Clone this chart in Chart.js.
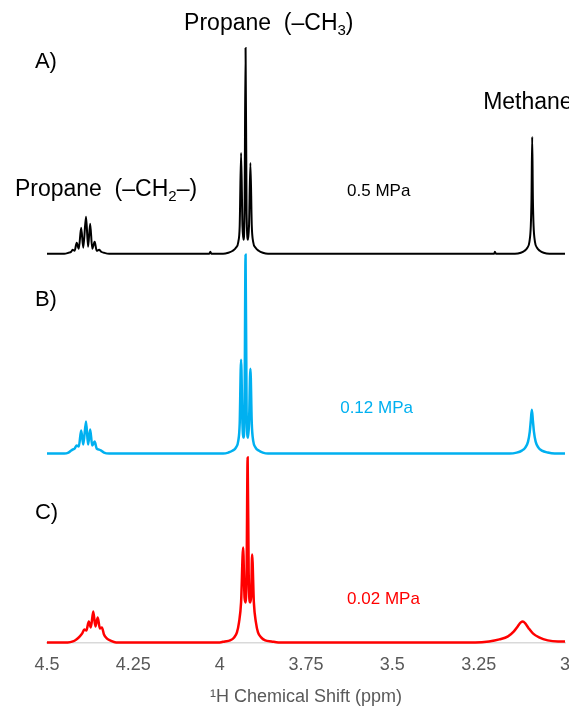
<!DOCTYPE html>
<html>
<head>
<meta charset="utf-8">
<script src="https://cdn.jsdelivr.net/npm/chart.js@4.4.1/dist/chart.umd.min.js"></script>
<style>
  html, body { margin: 0; padding: 0; background: #fff; }
  #wrap { width: 569px; height: 711px; }
</style>
</head>
<body>
<div id="wrap"><canvas id="nmr" width="569" height="711"></canvas></div>
<script>
// x axis ticks (ppm, reversed axis)
const TICKS = [4.5, 4.25, 4, 3.75, 3.5, 3.25, 3];

// A) 0.5 MPa
const SHIFT_A = [4.500, 4.450, 4.438, 4.430, 4.426, 4.420, 4.414, 4.408, 4.401, 4.395, 4.387, 4.381, 4.375, 4.369, 4.362, 4.356, 4.349, 4.343, 4.335, 4.320,
  4.030, 4.027, 4.024,
  3.990, 3.975, 3.962, 3.953, 3.946, 3.942, 3.938, 3.934, 3.931, 3.928, 3.925, 3.922, 3.918, 3.915, 3.911, 3.907, 3.903, 3.896, 3.887, 3.875, 3.860,
  3.205, 3.203, 3.200,
  3.145, 3.128, 3.117, 3.109, 3.103, 3.099, 3.097, 3.095, 3.093, 3.091, 3.087, 3.081, 3.073, 3.062, 3.045, 3.000];
const SIGNAL_A = [0, 0, 1, 2, 4, 3, 11, 5, 26, 6, 37, 7, 30, 5, 12, 3, 4, 2, 1, 0,
  0, 2, 0,
  0, 1, 3, 6, 12, 28, 101, 28, 14, 40, 206, 40, 14, 28, 91, 28, 12, 6, 3, 1, 0,
  0, 2, 0,
  0, 1, 3, 6, 12, 28, 55, 117, 55, 28, 12, 6, 3, 1, 0, 0];

// B) 0.12 MPa
const SHIFT_B = [4.500, 4.450, 4.438, 4.430, 4.426, 4.420, 4.414, 4.408, 4.401, 4.395, 4.387, 4.381, 4.375, 4.369, 4.362, 4.356, 4.349, 4.343, 4.335, 4.320,
  3.990, 3.975, 3.962, 3.953, 3.946, 3.942, 3.938, 3.934, 3.931, 3.928, 3.925, 3.922, 3.918, 3.915, 3.911, 3.907, 3.903, 3.896, 3.887, 3.875, 3.860,
  3.160, 3.140, 3.125, 3.115, 3.107, 3.102, 3.099, 3.096, 3.093, 3.090, 3.085, 3.077, 3.067, 3.050, 3.030, 3.000];
const SIGNAL_B = [0, 0, 1, 3, 4, 5, 8, 7, 23, 9, 32, 9, 24, 8, 12, 5, 4, 3, 1, 0,
  0, 1, 3, 6, 13, 30, 94, 30, 16, 42, 199, 42, 16, 30, 85, 30, 13, 6, 3, 1, 0,
  0, 1, 3, 6, 12, 22, 33, 44, 33, 22, 12, 6, 3, 1, 0, 0];

// C) 0.02 MPa
const SHIFT_C = [4.500, 4.440, 4.425, 4.415, 4.405, 4.398, 4.392, 4.386, 4.379, 4.373, 4.366, 4.360, 4.353, 4.347, 4.341, 4.335, 4.327, 4.317, 4.300,
  4.000, 3.985, 3.970, 3.958, 3.950, 3.944, 3.938, 3.932, 3.928, 3.925, 3.922, 3.919, 3.916, 3.912, 3.909, 3.906, 3.901, 3.895, 3.889, 3.880, 3.868, 3.850, 3.830,
  3.260, 3.220, 3.190, 3.165, 3.148, 3.137, 3.128, 3.122, 3.115, 3.105, 3.093, 3.075, 3.050, 3.020, 3.000];
const SIGNAL_C = [0, 0, 1, 3, 6, 9, 13, 12, 21, 15, 31, 16, 25, 14, 15, 8, 4, 2, 0,
  0, 1, 2, 5, 10, 20, 40, 95, 45, 40, 70, 185, 70, 40, 45, 88, 40, 20, 10, 5, 2, 1, 0,
  0, 1, 3, 6, 11, 16, 20, 21, 19, 14, 9, 5, 2, 1, 1];

const BLUE = "#00b0f0";
const RED = "#ff0000";
const GREY = "#595959";
const FONT = "'Liberation Sans', Arial, sans-serif";

// stack offsets of each trace (same units as the signal)
const OFFSET = { A: 389, B: 189, C: 0 };

function toPoints(shift, signal, offset) {
  return shift.map((s, i) => ({ x: s, y: signal[i] + offset }));
}

function trace(label, shift, signal, offset, color, width) {
  return {
    label,
    data: toPoints(shift, signal, offset),
    borderColor: color,
    borderWidth: width,
    pointRadius: 0,
    fill: false,
    cubicInterpolationMode: "monotone",
    clip: false,
  };
}

// text labels, placed in data space
const notes = [
  { parts: [["Propane  (\u2013CH"], ["3", true], [")"]], x: 4.103, y: 619, color: "#000", size: 23 },
  { parts: [["A)"]], x: 4.535, y: 581, color: "#000", size: 22 },
  { parts: [["Methane"]], x: 3.237, y: 540, color: "#000", size: 23 },
  { parts: [["Propane  (\u2013CH"], ["2", true], ["\u2013)"]], x: 4.593, y: 453, color: "#000", size: 23 },
  { parts: [["0.5 MPa"]], x: 3.631, y: 452, color: "#000", size: 17 },
  { parts: [["B)"]], x: 4.535, y: 343, color: "#000", size: 22 },
  { parts: [["0.12 MPa"]], x: 3.651, y: 234, color: BLUE, size: 17 },
  { parts: [["C)"]], x: 4.535, y: 130, color: "#000", size: 22 },
  { parts: [["0.02 MPa"]], x: 3.631, y: 43, color: RED, size: 17 },
];

const notesPlugin = {
  id: "notes",
  afterDraw(chart) {
    const { ctx } = chart;
    const xs = chart.scales.x, ys = chart.scales.y;
    ctx.save();
    ctx.textBaseline = "middle";
    ctx.textAlign = "left";
    for (const n of notes) {
      let px = xs.getPixelForValue(n.x);
      const py = ys.getPixelForValue(n.y);
      ctx.fillStyle = n.color;
      for (const [t, sub] of n.parts) {
        const size = sub ? Math.round(n.size * 0.65) : n.size;
        ctx.font = `${size}px ${FONT}`;
        ctx.fillText(t, px, sub ? py + n.size * 0.3 : py);
        px += ctx.measureText(t).width;
      }
    }
    ctx.restore();
  },
};

const ctx = document.getElementById("nmr").getContext("2d");
new Chart(ctx, {
  type: "line",
  data: {
    datasets: [
      trace("0.5 MPa", SHIFT_A, SIGNAL_A, OFFSET.A, "#000000", 2),
      trace("0.12 MPa", SHIFT_B, SIGNAL_B, OFFSET.B, BLUE, 2.5),
      trace("0.02 MPa", SHIFT_C, SIGNAL_C, OFFSET.C, RED, 2.5),
    ],
  },
  options: {
    responsive: false,
    animation: false,
    layout: { padding: { left: 47, right: 4, top: 40, bottom: 0 } },
    plugins: { legend: { display: false }, tooltip: { enabled: false } },
    scales: {
      x: {
        type: "linear",
        reverse: true,
        min: 3,
        max: 4.5,
        afterBuildTicks: (axis) => { axis.ticks = TICKS.map((v) => ({ value: v })); },
        afterFit: (axis) => { axis.paddingLeft = 0; axis.paddingRight = 0; },
        ticks: {
          color: GREY,
          font: { family: FONT, size: 18 },
          padding: 12,
          maxRotation: 0,
          autoSkip: false,
          callback: (v) => String(v),
        },
        grid: { display: false, drawTicks: false },
        border: { display: true, color: "#d9d9d9", width: 1.5 },
        title: {
          display: true,
          text: "\u00b9H Chemical Shift (ppm)",
          color: GREY,
          font: { family: FONT, size: 18, lineHeight: 1 },
          padding: { top: 0, bottom: 5 },
        },
      },
      y: { display: false, min: 0, max: 603 },
    },
  },
  plugins: [notesPlugin],
});
</script>
</body>
</html>
